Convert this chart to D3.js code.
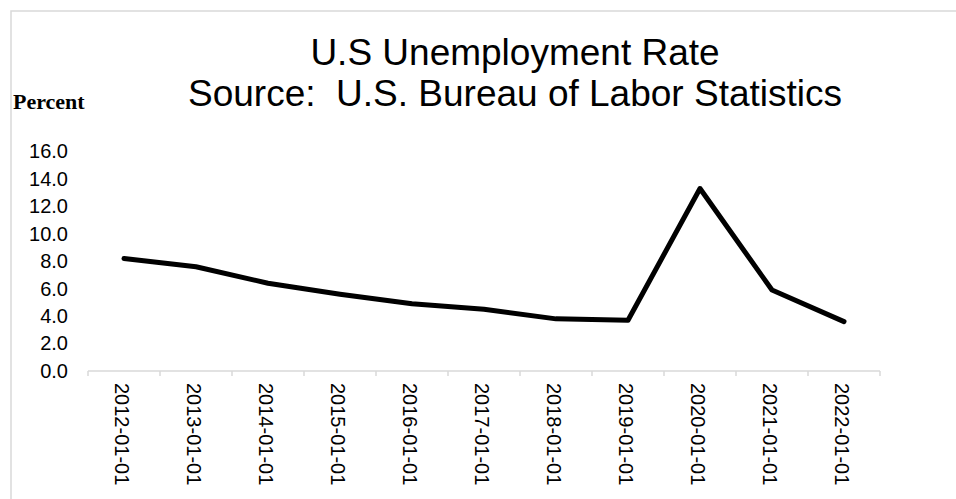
<!DOCTYPE html>
<html>
<head>
<meta charset="utf-8">
<script src="https://cdn.jsdelivr.net/npm/d3@7"></script>
<style>
  html, body { margin: 0; padding: 0; background: #fff; }
  svg { display: block; }
</style>
</head>
<body>
<svg id="chart" width="956" height="499"></svg>
<script>
// ---- data ----
const categories = ["2012-01-01","2013-01-01","2014-01-01","2015-01-01","2016-01-01","2017-01-01","2018-01-01","2019-01-01","2020-01-01","2021-01-01","2022-01-01"];
const unemploymentRate = [8.2, 7.6, 6.4, 5.6, 4.9, 4.5, 3.8, 3.7, 13.3, 5.9, 3.6];
const yTicks = [0, 2, 4, 6, 8, 10, 12, 14, 16];
const titleLines = ["U.S Unemployment Rate", "Source:  U.S. Bureau of Labor Statistics"];
const yAxisTitle = "Percent";

// ---- layout ----
const svg = d3.select("#chart");
const sans = "'Liberation Sans', Arial, Helvetica, sans-serif";
const serif = "'Liberation Serif', 'Times New Roman', serif";
const plot = { left: 88, right: 880, top: 151.5, bottom: 371 };

// outer chart border (top and left visible)
svg.append("rect")
  .attr("x", 11).attr("y", 11)
  .attr("width", 1200).attr("height", 1200)
  .attr("fill", "none").attr("stroke", "#d9d9d9").attr("stroke-width", 1.5);

const x = d3.scaleBand().domain(categories).range([plot.left, plot.right]).padding(0);
const y = d3.scaleLinear().domain([0, 16]).range([plot.bottom, plot.top]);

// title
svg.append("text")
  .attr("x", 515).attr("y", 65)
  .attr("text-anchor", "middle")
  .style("white-space", "pre")
  .style("font-family", sans).style("font-size", "37px").attr("fill", "#000")
  .text(titleLines[0]);
svg.append("text")
  .attr("x", 515).attr("y", 106)
  .attr("text-anchor", "middle")
  .attr("xml:space", "preserve")
  .style("white-space", "pre")
  .style("font-family", sans).style("font-size", "37px").attr("fill", "#000")
  .text(titleLines[1]);

// y axis title
svg.append("text")
  .attr("x", 13).attr("y", 109)
  .style("font-family", serif).style("font-size", "22px").style("font-weight", "bold")
  .attr("fill", "#000")
  .text(yAxisTitle);

// y axis (labels only)
const yAxis = svg.append("g")
  .attr("transform", `translate(${plot.left},0)`)
  .call(d3.axisLeft(y).tickValues(yTicks).tickSize(0).tickPadding(20).tickFormat(d3.format(".1f")));
yAxis.select(".domain").remove();
yAxis.selectAll("text")
  .style("font-family", sans).style("font-size", "20px").attr("fill", "#000");

// x axis
const xAxis = svg.append("g")
  .attr("transform", `translate(0,${plot.bottom})`)
  .call(d3.axisBottom(x).tickSize(0));
xAxis.select(".domain").remove();
xAxis.selectAll("text")
  .attr("transform", "rotate(90)")
  .attr("x", 12).attr("y", 0).attr("dy", "0.45em")
  .attr("text-anchor", "start")
  .style("font-family", sans).style("font-size", "20px").attr("fill", "#000");

// axis line and boundary ticks
svg.append("line")
  .attr("x1", plot.left).attr("x2", plot.right)
  .attr("y1", plot.bottom).attr("y2", plot.bottom)
  .attr("stroke", "#d9d9d9").attr("stroke-width", 1.5);
const boundaries = categories.map(c => x(c)).concat([x(categories[categories.length - 1]) + x.bandwidth()]);
svg.append("g").selectAll("line").data(boundaries).join("line")
  .attr("x1", d => d).attr("x2", d => d)
  .attr("y1", plot.bottom).attr("y2", plot.bottom + 5)
  .attr("stroke", "#d9d9d9").attr("stroke-width", 1.5);

// line
const line = d3.line()
  .x((d, i) => x(categories[i]) + x.bandwidth() / 2)
  .y(d => y(d));
svg.append("path")
  .datum(unemploymentRate)
  .attr("d", line)
  .attr("fill", "none")
  .attr("stroke", "#000")
  .attr("stroke-width", 5)
  .attr("stroke-linejoin", "round")
  .attr("stroke-linecap", "round");
</script>
</body>
</html>
